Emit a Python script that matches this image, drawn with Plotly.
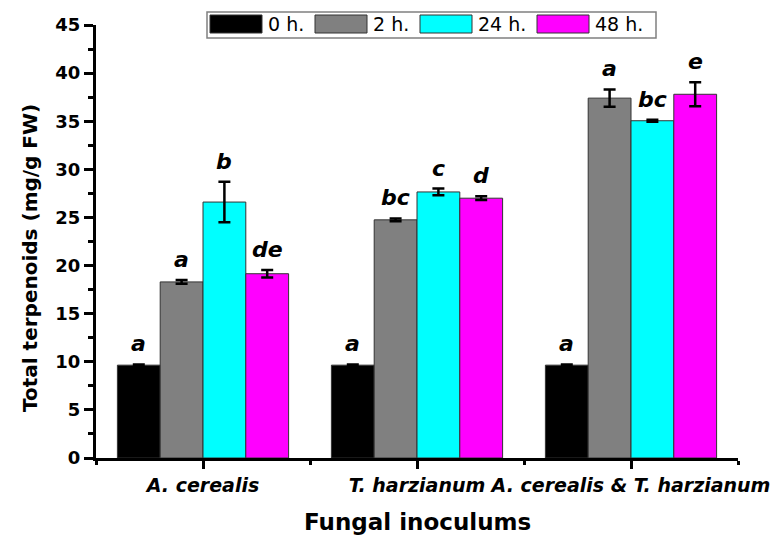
import plotly.graph_objects as go

categories = ["A. cerealis", "T. harzianum", "A. cerealis & T. harzianum"]
series_names = ["0 h.", "2 h.", "24 h.", "48 h."]
colors = ["#000000", "#808080", "#00FFFF", "#FF00FF"]
values_0h = [9.65, 9.65, 9.65]
values_2h = [18.3, 24.75, 37.4]
values_24h = [26.6, 27.65, 35.05]
values_48h = [19.15, 27.0, 37.8]
err_0h = [0.08, 0.08, 0.08]
err_2h = [0.2, 0.15, 0.9]
err_24h = [2.1, 0.35, 0.1]
err_48h = [0.4, 0.2, 1.25]
letters_0h = ["a", "a", "a"]
letters_2h = ["a", "bc", "a"]
letters_24h = ["b", "c", "bc"]
letters_48h = ["de", "d", "e"]

values = [values_0h, values_2h, values_24h, values_48h]
errs = [err_0h, err_2h, err_24h, err_48h]
letters = [letters_0h, letters_2h, letters_24h, letters_48h]
xpos = [1, 2, 3]

FONT = "DejaVu Sans, sans-serif"
# page is offset by the browser's 8px body margin
OFF = 8
W, H = 779 - OFF, 539 - OFF
PL, PR, PT, PB = 96, 738, 25, 458  # plot area in page pixels
L, R, T, B = PL - OFF, 779 - PR, PT - OFF, 539 - PB

def px(x):
    return (x - PL) / (PR - PL)

def py(y):
    return (PB - y) / (PB - PT)

fig = go.Figure()
for i, name in enumerate(series_names):
    fig.add_trace(go.Bar(
        x=xpos, y=values[i], name=name,
        marker=dict(color=colors[i], line=dict(color="#333333", width=1)),
        error_y=dict(type="data", array=errs[i], color="black", thickness=2.5, width=6),
        showlegend=False,
    ))

annotations = []
offsets = [-0.3, -0.1, 0.1, 0.3]
for i in range(4):
    for j in range(3):
        annotations.append(dict(
            x=xpos[j] + offsets[i], y=values[i][j] + errs[i][j], xref="x", yref="y",
            text=letters[i][j], showarrow=False, yanchor="bottom", yshift=6,
            font=dict(family=FONT, size=22, color="black", weight="bold", style="italic"),
        ))

# axis titles
annotations.append(dict(x=px(30), y=py(258), xref="paper", yref="paper",
                        xanchor="center", yanchor="middle",
                        text="Total terpenoids (mg/g FW)", textangle=-90, showarrow=False,
                        font=dict(family=FONT, size=20, color="black", weight="bold")))
annotations.append(dict(x=px(417), y=py(522), xref="paper", yref="paper",
                        xanchor="center", yanchor="middle",
                        text="Fungal inoculums", showarrow=False,
                        font=dict(family=FONT, size=23, color="black", weight="bold")))

# custom legend
shapes = [dict(type="rect", xref="paper", yref="paper", x0=px(207), x1=px(656), y0=py(38), y1=py(12),
               line=dict(color="#808080", width=1.5), fillcolor="white", layer="above")]
sw_x = [210, 315, 420, 537]
for i, name in enumerate(series_names):
    shapes.append(dict(type="rect", xref="paper", yref="paper", x0=px(sw_x[i]), x1=px(sw_x[i] + 52),
                       y0=py(33), y1=py(15), line=dict(color="#333333", width=1), fillcolor=colors[i],
                       layer="above"))
    annotations.append(dict(x=px(sw_x[i] + 56), y=py(24), xref="paper", yref="paper", text=name,
                            showarrow=False, xanchor="left", yanchor="middle",
                            font=dict(family=FONT, size=19, color="black")))

fig.update_layout(
    width=W, height=H, margin=dict(l=L, r=R, t=T, b=B, autoexpand=False),
    paper_bgcolor="white", plot_bgcolor="white",
    barmode="group", bargap=0.2, bargroupgap=0,
    font=dict(family=FONT, color="black"),
    annotations=annotations, shapes=shapes,
    xaxis=dict(range=[0.5, 3.5], tickmode="array", tickvals=xpos, ticktext=categories,
               showline=True, linecolor="black", linewidth=3, showgrid=False, zeroline=False,
               ticks="outside", ticklen=8, tickwidth=3, tickcolor="black",
               minor=dict(tickmode="array", tickvals=[0.5, 1.5, 2.5, 3.5], ticks="outside",
                          ticklen=4, tickwidth=3, tickcolor="black"),
               tickfont=dict(family=FONT, size=19, color="black", weight="bold", style="italic")),
    yaxis=dict(range=[0, 45], tickmode="linear", tick0=0, dtick=5,
               showline=True, linecolor="black", linewidth=3, showgrid=False, zeroline=False,
               ticks="outside", ticklen=9, tickwidth=3, tickcolor="black",
               minor=dict(dtick=2.5, ticks="outside", ticklen=5, tickwidth=3, tickcolor="black"),
               tickfont=dict(family=FONT, size=18, color="black", weight="bold")),
)

fig.write_html("out.html")
